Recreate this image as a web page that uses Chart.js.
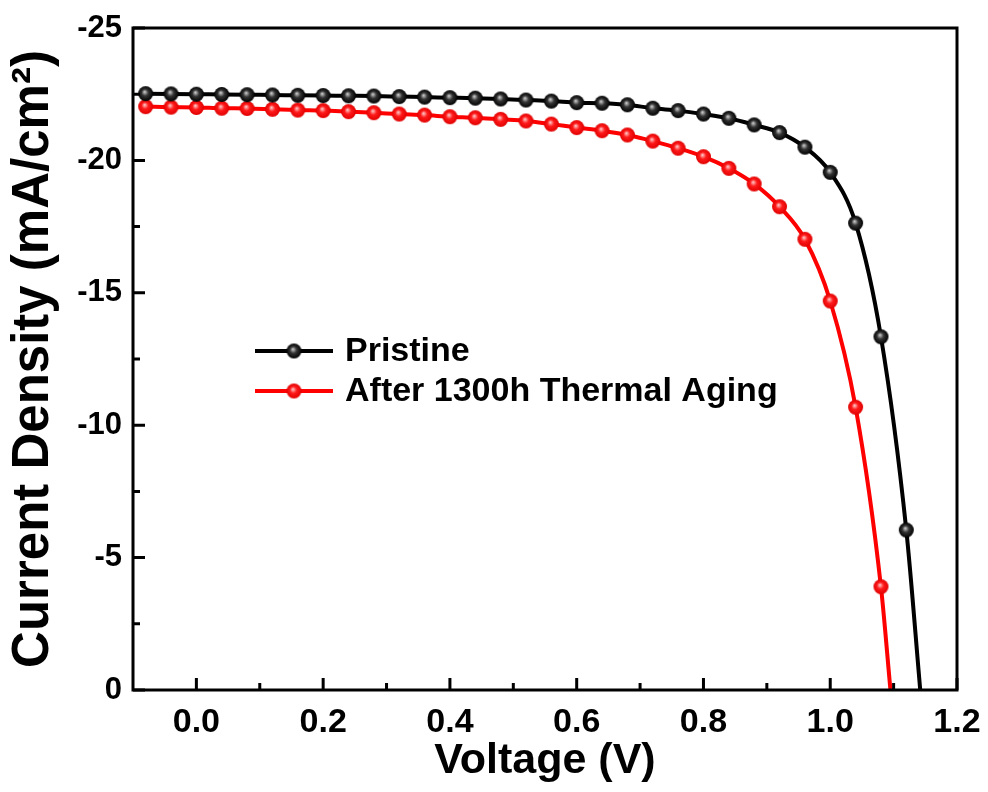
<!DOCTYPE html>
<html><head><meta charset="utf-8">
<script src="https://cdn.jsdelivr.net/npm/chart.js@4.4.0/dist/chart.umd.min.js"></script>
<style>html,body{margin:0;padding:0;background:#fff}#wrap{width:988px;height:792px;position:relative}</style>
</head><body><div id="wrap"><canvas id="c" width="988" height="792"></canvas></div>
<script>
// ---- data ----
const voltage = [-0.08,-0.04,0.00,0.04,0.08,0.12,0.16,0.20,0.24,0.28,0.32,0.36,0.40,0.44,0.48,0.52,0.56,0.60,0.64,0.68,0.72,0.76,0.80,0.84,0.88,0.92,0.96,1.00,1.04,1.08,1.12];
const pristineJ = [-22.52,-22.51,-22.50,-22.49,-22.48,-22.47,-22.46,-22.45,-22.44,-22.43,-22.41,-22.39,-22.37,-22.35,-22.32,-22.28,-22.24,-22.18,-22.16,-22.10,-21.97,-21.88,-21.75,-21.59,-21.34,-21.05,-20.50,-19.55,-17.63,-13.34,-6.04];
const pristineVoc = 1.142;
const agedJ = [-22.03,-22.01,-22.00,-21.97,-21.96,-21.93,-21.90,-21.88,-21.84,-21.80,-21.75,-21.71,-21.65,-21.61,-21.55,-21.49,-21.37,-21.24,-21.12,-20.96,-20.73,-20.46,-20.14,-19.70,-19.11,-18.25,-17.02,-14.69,-10.68,-3.90];
const agedVoc = 1.095;
const xTicks = [0.0,0.2,0.4,0.6,0.8,1.0,1.2];
const yTicks = [-25,-20,-15,-10,-5,0];
const seriesLabels = ['Pristine','After 1300h Thermal Aging'];
const xTitle = 'Voltage (V)';
const yTitle = 'Current Density (mA/cm\u00B2)';

const FONT = '"Liberation Sans", Arial, sans-serif';

function sphere(r, edge, mid, hi){
  const s = 2*r+2, c = document.createElement('canvas');
  c.width = c.height = s;
  const g = c.getContext('2d'), cx = s/2, cy = s/2;
  const grad = g.createRadialGradient(cx-r*0.15, cy-r*0.25, 0, cx, cy, r);
  grad.addColorStop(0, hi); grad.addColorStop(0.45, mid); grad.addColorStop(1, edge);
  g.fillStyle = grad; g.beginPath(); g.arc(cx, cy, r, 0, Math.PI*2); g.fill();
  return c;
}
const blackBall = sphere(7.5, '#000000', '#333333', '#d8d8d8');
const redBall = sphere(7.5, '#e00000', '#ff1a1a', '#ffd6d6');

function buildPoints(J, Voc){
  const pts = J.map((y,i)=>({x: voltage[i], y: y}));
  pts.push({x: Voc, y: 0});
  return pts;
}
function radii(J){ return J.map(()=>7).concat([0]); }

const frameTicks = {
  id: 'frameTicks',
  afterDatasetsDraw(chart){
    const {ctx, chartArea: a, scales: {x, y}} = chart;
    ctx.save();
    ctx.strokeStyle = '#000';
    ctx.lineWidth = 3;
    ctx.strokeRect(a.left, a.top, a.right - a.left, a.bottom - a.top);
    ctx.beginPath();
    for (let i = 0; i < xTicks.length; i++){
      const px = x.getPixelForValue(xTicks[i]);
      ctx.moveTo(px, a.bottom); ctx.lineTo(px, a.bottom - 12);
      if (i < xTicks.length - 1){
        const pm = x.getPixelForValue((xTicks[i] + xTicks[i+1]) / 2);
        ctx.moveTo(pm, a.bottom); ctx.lineTo(pm, a.bottom - 7);
      }
    }
    for (let i = 0; i < yTicks.length; i++){
      const py = y.getPixelForValue(yTicks[i]);
      ctx.moveTo(a.left, py); ctx.lineTo(a.left + 12, py);
      if (i < yTicks.length - 1){
        const pm = y.getPixelForValue((yTicks[i] + yTicks[i+1]) / 2);
        ctx.moveTo(a.left, pm); ctx.lineTo(a.left + 7, pm);
      }
    }
    ctx.stroke();
    ctx.restore();
  }
};

const insideLegend = {
  id: 'insideLegend',
  afterDraw(chart){
    const {ctx, chartArea: a} = chart;
    ctx.save();
    chart.data.datasets.forEach((ds, i) => {
      const yy = a.top + 323 + 40*i;
      const x0 = a.left + 122, x1 = a.left + 200;
      ctx.strokeStyle = ds.borderColor; ctx.lineWidth = 4;
      ctx.beginPath(); ctx.moveTo(x0, yy); ctx.lineTo(x1, yy); ctx.stroke();
      const img = ds.pointStyle;
      ctx.drawImage(img, (x0+x1)/2 - img.width/2, yy - img.height/2);
      ctx.fillStyle = '#000';
      ctx.font = 'bold 34px ' + FONT;
      ctx.textBaseline = 'middle';
      ctx.fillText(ds.label, a.left + 212, yy + 1);
    });
    ctx.restore();
  }
};

new Chart(document.getElementById('c'), {
  type: 'line',
  data: {
    datasets: [
      { label: seriesLabels[0], data: buildPoints(pristineJ, pristineVoc),
        borderColor: '#000000', borderWidth: 4, pointStyle: blackBall,
        pointRadius: radii(pristineJ), pointHoverRadius: radii(pristineJ),
        cubicInterpolationMode: 'monotone', fill: false },
      { label: seriesLabels[1], data: buildPoints(agedJ, agedVoc),
        borderColor: '#ff0000', borderWidth: 4, pointStyle: redBall,
        pointRadius: radii(agedJ), pointHoverRadius: radii(agedJ),
        cubicInterpolationMode: 'monotone', fill: false }
    ]
  },
  options: {
    responsive: false, animation: false, devicePixelRatio: 1,
    layout: { padding: { top: 28, right: 31, left: 0, bottom: 0 } },
    plugins: { legend: { display: false }, tooltip: { enabled: false } },
    scales: {
      x: {
        type: 'linear', min: -0.1, max: 1.2,
        afterBuildTicks: s => { s.ticks = xTicks.map(v => ({value: v})); },
        afterFit: s => { s.height = 102; s.paddingLeft = 0; s.paddingRight = 0; },
        grid: { display: false, drawTicks: false },
        border: { display: false },
        ticks: { color: '#000', padding: 12, font: { family: FONT, size: 34, weight: 'bold' },
                 callback: v => Number(v).toFixed(1) },
        title: { display: true, text: xTitle, color: '#000', padding: { top: 0, bottom: 5 },
                 font: { family: FONT, size: 43, weight: 'bold' } }
      },
      y: {
        type: 'linear', min: -25, max: 0, reverse: true,
        afterBuildTicks: s => { s.ticks = yTicks.map(v => ({value: v})); },
        afterFit: s => { s.width = 133; s.paddingTop = 0; s.paddingBottom = 0; },
        grid: { display: false, drawTicks: false },
        border: { display: false },
        ticks: { color: '#000', padding: 11, font: { family: FONT, size: 31, weight: 'bold' },
                 callback: v => String(v) },
        title: { display: true, text: yTitle, color: '#000', padding: { top: 3, bottom: 0 },
                 font: { family: FONT, size: 51, weight: 'bold' } }
      }
    }
  },
  plugins: [frameTicks, insideLegend]
});
</script>
</body></html>
